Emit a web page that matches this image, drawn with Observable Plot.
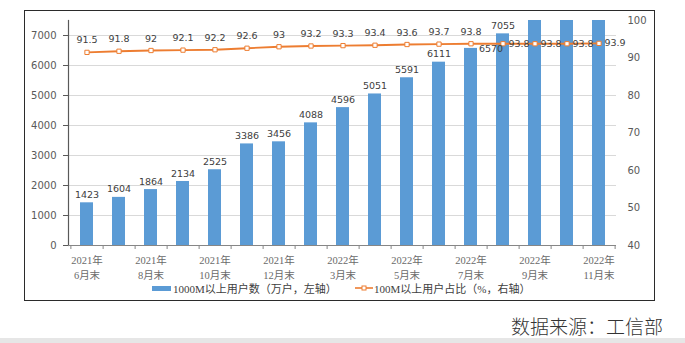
<!DOCTYPE html>
<html>
<head>
<meta charset="utf-8">
<script src="https://cdn.jsdelivr.net/npm/d3@7"></script>
<script src="https://cdn.jsdelivr.net/npm/@observablehq/plot@0.6"></script>
<style>
html,body{margin:0;padding:0;background:#fff;width:685px;height:343px;overflow:hidden;position:relative;}
#chart{position:absolute;left:0;top:0;}
#frame{position:absolute;left:24px;top:10px;width:631px;height:291px;border:1.2px solid #2b2b2b;box-sizing:border-box;pointer-events:none;}
.legend-item{position:absolute;top:281px;height:14px;display:flex;align-items:center;font-family:"Liberation Serif","Noto Sans CJK SC",serif;font-size:11px;color:#404040;white-space:nowrap;}
.swatch-bar{display:inline-block;width:19px;height:5px;background:#5b9bd5;margin-right:2px;}
#source{position:absolute;left:511px;top:313px;font-family:"Noto Sans CJK SC",sans-serif;font-weight:300;font-size:19px;line-height:26px;color:#333;white-space:nowrap;}
#band{position:absolute;left:0;top:338px;width:685px;height:5px;background:#e6e6e6;}
</style>
</head>
<body>
<div id="chart"></div>
<div id="frame"></div>
<div class="legend-item" style="left:152px"><span class="swatch-bar"></span><span id="leg1"></span></div>
<div class="legend-item" style="left:355px"><svg width="18" height="8" style="margin-right:1px"><line x1="0" y1="4" x2="18" y2="4" stroke="#ed7d31" stroke-width="1.6"/><rect x="7" y="2" width="4" height="4" fill="#fff" stroke="#ed7d31" stroke-width="1"/></svg><span id="leg2"></span></div>
<div id="source"></div>
<div id="band"></div>
<script>
// ---- data ----
const periods = ["2021年\n6月末","2021年\n7月末","2021年\n8月末","2021年\n9月末","2021年\n10月末","2021年\n11月末","2021年\n12月末","2022年\n2月末","2022年\n3月末","2022年\n4月末","2022年\n5月末","2022年\n6月末","2022年\n7月末","2022年\n8月末","2022年\n9月末","2022年\n10月末","2022年\n11月末"];
const labelledPeriods = ["2021年\n6月末","2021年\n8月末","2021年\n10月末","2021年\n12月末","2022年\n3月末","2022年\n5月末","2022年\n7月末","2022年\n9月末","2022年\n11月末"];
const users = [1423,1604,1864,2134,2525,3386,3456,4088,4596,5051,5591,6111,6570,7055,7616,8115,8599];
const share = [91.5,91.8,92,92.1,92.2,92.6,93,93.2,93.3,93.4,93.6,93.7,93.8,93.8,93.8,93.8,93.9];
const leftTicks = [0,1000,2000,3000,4000,5000,6000,7000];
const rightTicks = [40,50,60,70,80,90,100];
const leftDomain = [0,7500];
const rightDomain = [40,100];
const seriesNames = ["1000M以上用户数（万户，左轴）","100M以上用户占比（%，右轴）"];
const sourceText = "数据来源：工信部";
const sideUserLabel = 12;      // label Excel moved beside its bar
const sideShareLabelsFrom = 13; // share labels placed to the right of points

document.getElementById("leg1").textContent = seriesNames[0];
document.getElementById("leg2").textContent = seriesNames[1];
document.getElementById("source").textContent = sourceText;

const data = periods.map((p,i)=>({period:p, users:users[i], share:share[i], i}));
const r2l = d3.scaleLinear(rightDomain, leftDomain);

const blue = "#5b9bd5", orange = "#ed7d31";
const labelFont = "DejaVu Sans";
const serif = "Liberation Serif, Noto Sans CJK SC, serif";

const chart = Plot.plot({
  width: 685,
  height: 280,
  marginLeft: 68,
  marginRight: 69,
  marginTop: 20,
  marginBottom: 35,
  style: {background: "transparent", fontFamily: labelFont, fontSize: "9.5px", overflow: "visible"},
  x: {type: "band", domain: periods, paddingInner: 0.6, paddingOuter: 0.3, label: null},
  y: {domain: leftDomain, label: null},
  marks: [
    Plot.gridY({ticks: leftTicks.filter(t => t > 0), stroke: "#d9d9d9", strokeOpacity: 1}),
    Plot.barY(data, {x: "period", y: "users", fill: blue, clip: true}),
    Plot.frame({anchor: "left", stroke: "#595959", strokeWidth: 1.2}),
    Plot.ruleY([0], {stroke: "#868686", strokeWidth: 1.2}),
    Plot.axisY({anchor: "left", ticks: leftTicks, tickSize: 5, tickPadding: 7, tickFormat: d3.format("d"), stroke: "#595959", fill: "#595959", fontSize: 10, fontFamily: labelFont}),
    Plot.axisY({anchor: "right", ticks: rightTicks.map(r2l), tickSize: 0, tickPadding: 11, tickFormat: d => String(Math.round(r2l.invert(d))), fill: "#595959", fontSize: 10, fontFamily: labelFont}),
    // boundary tick marks
    Plot.axisX({ticks: periods, tickSize: 4, tickFormat: () => "", dx: 16.12, stroke: "#868686"}),
    Plot.axisX({ticks: periods.slice(0,1), tickSize: 4, tickFormat: () => "", dx: -16.12, stroke: "#868686"}),
    // category labels
    Plot.axisX({ticks: labelledPeriods, tickSize: 0, tickPadding: 8, fill: "#6a6a6a", fontSize: 10.5, fontFamily: serif, lineHeight: 1.42}),
    // share line
    Plot.line(data, {x: "period", y: d => r2l(d.share), stroke: orange, strokeWidth: 1.8}),
    Plot.dot(data, {x: "period", y: d => r2l(d.share), symbol: "square", r: 2.4, stroke: orange, fill: "white", strokeWidth: 1}),
    Plot.text(data.filter(d => d.i < sideShareLabelsFrom), {x: "period", y: d => r2l(d.share), text: d => String(d.share), dy: -12, fill: "#404040", fontSize: 9.5, fontFamily: labelFont}),
    Plot.text(data.filter(d => d.i >= sideShareLabelsFrom), {x: "period", y: d => r2l(d.share), text: d => String(d.share), dx: 16, fill: "#404040", fontSize: 9.5, fontFamily: labelFont}),
    // bar value labels
    Plot.text(data.filter(d => d.users <= leftDomain[1] && d.i !== sideUserLabel), {x: "period", y: "users", text: d => String(d.users), dy: -8, fill: "#404040", fontSize: 9.5, fontFamily: labelFont}),
    Plot.text(data.filter(d => d.i === sideUserLabel), {x: "period", y: "users", text: d => String(d.users), dx: 20, dy: 1, fill: "#404040", fontSize: 9.5, fontFamily: labelFont})
  ]
});
document.getElementById("chart").appendChild(chart);
</script>
</body>
</html>
